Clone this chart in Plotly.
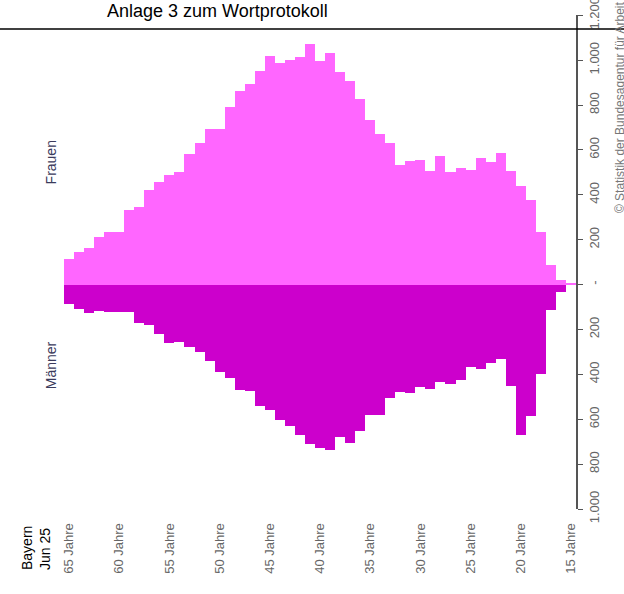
import plotly.graph_objects as go

# Ages 65 .. 15
ages = list(range(65, 14, -1))

frauen = [113, 143, 161, 210, 235, 232, 334, 346, 420, 456,
          487, 501, 580, 629, 691, 691, 793, 864, 894, 950,
          1020, 986, 1002, 1014, 1072, 995, 1032, 949, 906, 828,
          731, 672, 632, 532, 550, 553, 507, 571, 500, 518,
          512, 565, 547, 587, 507, 441, 376, 233, 88, 20, 5]

maenner = [87, 109, 128, 116, 124, 124, 122, 173, 182, 222,
           260, 257, 279, 300, 340, 389, 417, 468, 473, 543,
           559, 602, 629, 672, 712, 730, 737, 679, 706, 653,
           580, 580, 506, 479, 484, 457, 466, 432, 441, 426,
           368, 377, 350, 333, 452, 672, 584, 399, 115, 32, 0]

x_tickvals = [65, 60, 55, 50, 45, 40, 35, 30, 25, 20, 15]
x_ticktext = [f"{a} Jahre" for a in x_tickvals]

y_tickvals = [-1000, -800, -600, -400, -200, 0, 200, 400, 600, 800, 1000, 1200]
y_ticktext = ["1.000", "800", "600", "400", "200", "-", "200", "400", "600", "800", "1.000", "1.200"]

fig = go.Figure()
fig.add_trace(go.Bar(x=ages, y=frauen, name="Frauen",
                     marker=dict(color="#FF66FF", line=dict(width=0))))
fig.add_trace(go.Bar(x=ages, y=[-v for v in maenner], name="Männer",
                     marker=dict(color="#CC00CC", line=dict(width=0))))

fig.update_layout(
    width=624, height=594,
    margin=dict(l=64, r=48, t=15, b=85, autoexpand=False),
    paper_bgcolor="white", plot_bgcolor="white",
    barmode="relative", bargap=0,
    showlegend=False,
    font=dict(family="Liberation Sans, Arial, sans-serif"),
    xaxis=dict(range=[65.5, 14.5], tickvals=x_tickvals, ticktext=x_ticktext,
               tickangle=-90, tickfont=dict(size=13, color="#666666"),
               showgrid=False, zeroline=False, showline=False, automargin=False,
               ticks="outside", ticklen=8, tickcolor="rgba(0,0,0,0)"),
    yaxis=dict(range=[-1000, 1201], side="right", tickvals=y_tickvals, ticktext=y_ticktext,
               tickangle=-90, tickfont=dict(size=13, color="#666666"),
               ticklabeloverflow="allow",
               showgrid=False, zeroline=False, showline=True, automargin=False,
               linecolor="#555555", linewidth=2,
               ticks="outside", ticklen=5, tickcolor="#555555", tickwidth=1),
)

# page header line
fig.add_shape(type="line", xref="paper", yref="paper",
              x0=-0.125, x1=1.094, y0=0.9717, y1=0.9717,
              line=dict(color="black", width=1.5))

ann = []
ann.append(dict(text="Anlage 3 zum Wortprotokoll", xref="paper", yref="paper",
                x=0.299, y=1.008, xanchor="center", yanchor="middle", showarrow=False,
                font=dict(size=18, color="black")))
ann.append(dict(text="Frauen", xref="paper", yref="paper", x=-0.025, y=0.702,
                xanchor="center", yanchor="middle",
                textangle=-90, showarrow=False, font=dict(size=14, color="#3b3b5c")))
ann.append(dict(text="Männer", xref="paper", yref="paper", x=-0.025, y=0.2915,
                xanchor="center", yanchor="middle",
                textangle=-90, showarrow=False, font=dict(size=14, color="#3b3b5c")))
ann.append(dict(text="Bayern<br>Jun 25", xref="paper", yref="paper", x=-0.0547, y=-0.079,
                xanchor="center", yanchor="middle",
                textangle=-90, align="left", showarrow=False, font=dict(size=14, color="black")))
ann.append(dict(text="© Statistik der Bundesagentur für Arbeit", xref="paper", yref="paper",
                x=1.086, y=0.595, xanchor="center", yanchor="bottom",
                textangle=-90, showarrow=False, font=dict(size=12, color="#777777")))
fig.update_layout(annotations=ann)

fig.write_html("out.html", config={"displayModeBar": False},
               post_script="document.body.style.margin='0';")
